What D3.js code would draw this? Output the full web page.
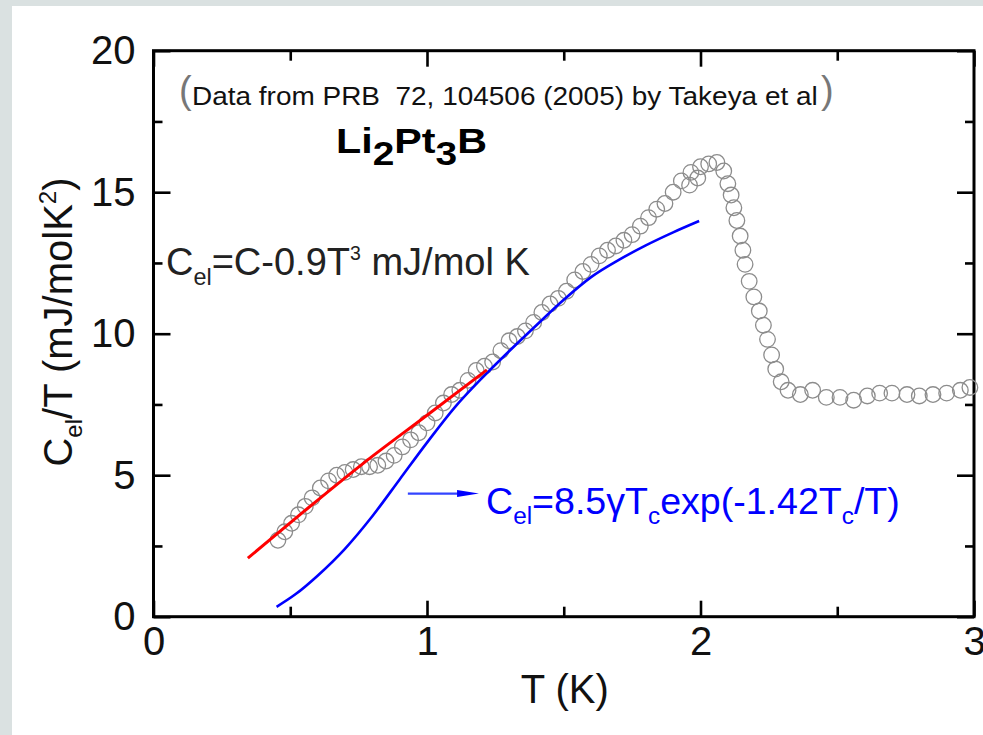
<!DOCTYPE html>
<html><head><meta charset="utf-8">
<script src="https://cdn.jsdelivr.net/npm/d3@7"></script>
<style>
html,body{margin:0;padding:0;background:#dae1e1;}
svg{display:block;}
text{font-family:"Liberation Sans",Arial,sans-serif;}
</style></head><body>
<svg id="chart" width="983" height="735"></svg>
<script>
// ---- data ----
const tempK = [0.455,0.48,0.505,0.53,0.555,0.58,0.61,0.64,0.67,0.70,0.73,0.76,0.79,0.82,0.85,0.88,0.91,0.94,0.97,1.00,1.03,1.06,1.09,1.12,1.15,1.18,1.21,1.24,1.27,1.30,1.33,1.36,1.39,1.42,1.45,1.48,1.51,1.54,1.57,1.60,1.63,1.66,1.69,1.72,1.75,1.78,1.81,1.84,1.87,1.90,1.93,1.96,1.965,1.99,2.00,2.03,2.06,2.085,2.10,2.112,2.122,2.133,2.145,2.155,2.163,2.178,2.195,2.215,2.23,2.245,2.26,2.275,2.295,2.32,2.365,2.41,2.46,2.51,2.56,2.61,2.655,2.70,2.755,2.80,2.85,2.90,2.95,2.985];
const cOverT = [2.70,3.0,3.3,3.6,3.9,4.2,4.55,4.8,5.0,5.1,5.2,5.3,5.3,5.35,5.5,5.7,6.0,6.25,6.5,6.85,7.2,7.55,7.85,8.0,8.35,8.7,8.85,9.0,9.4,9.75,9.9,10.1,10.4,10.75,11.05,11.25,11.5,11.9,12.2,12.45,12.75,12.95,13.1,13.3,13.5,13.8,14.1,14.4,14.6,15.0,15.4,15.25,15.7,15.5,15.9,16.0,16.05,15.75,15.3,14.9,14.45,14.0,13.45,12.95,12.45,11.85,11.3,10.8,10.3,9.8,9.25,8.75,8.3,8.0,7.85,8.0,7.75,7.75,7.65,7.8,7.9,7.9,7.85,7.8,7.85,7.9,8.0,8.1];
const redFitT = [0.345,0.55,0.767,1.0,1.219];
const redFitC = [2.07,3.72,5.42,7.12,8.72];
const blueFitT = [0.45,0.52,0.60,0.70,0.80,0.90,1.00,1.10,1.20,1.30,1.40,1.50,1.60,1.70,1.80,1.90,1.995];
const blueFitC = [0.35,0.80,1.45,2.40,3.55,4.85,6.15,7.38,8.42,9.38,10.3,11.2,12.0,12.6,13.12,13.58,13.98];
const xMajor = [0,1,2,3];
const xMinor = [0.5,1.5,2.5];
const yMajor = [0,5,10,15,20];
const yMinor = [2.5,7.5,12.5,17.5];

// ---- layout ----
const W = 983, H = 735;
const svg = d3.select("#chart");
svg.append("rect").attr("width", W).attr("height", H).attr("fill", "#dae1e1");
svg.append("rect").attr("x", 12).attr("y", 6).attr("width", W - 12).attr("height", H - 6).attr("fill", "#ffffff");

const x = d3.scaleLinear().domain([0, 3]).range([153.5, 974]);
const y = d3.scaleLinear().domain([0, 20]).range([616.7, 50.7]);

// ---- axes ----
function styleAxis(g) {
  g.select(".domain").remove();
  g.selectAll(".tick line").attr("stroke", "#000").attr("stroke-width", 2.6);
  g.selectAll(".tick text").attr("font-family", "Liberation Sans, Arial, sans-serif")
    .attr("font-size", 40).attr("fill", "#111");
}
const fmt = d3.format("d");
svg.append("g").attr("transform", `translate(0,${y(0)})`)
  .call(d3.axisBottom(x).tickValues(xMajor).tickSizeInner(-16).tickSizeOuter(0).tickPadding(10).tickFormat(fmt)).call(styleAxis);
svg.append("g").attr("transform", `translate(0,${y(0)})`)
  .call(d3.axisBottom(x).tickValues(xMinor).tickSizeInner(-10).tickSizeOuter(0).tickFormat("")).call(styleAxis);
svg.append("g").attr("transform", `translate(0,${y(20)})`)
  .call(d3.axisTop(x).tickValues(xMajor).tickSizeInner(-16).tickSizeOuter(0).tickFormat("")).call(styleAxis);
svg.append("g").attr("transform", `translate(0,${y(20)})`)
  .call(d3.axisTop(x).tickValues(xMinor).tickSizeInner(-10).tickSizeOuter(0).tickFormat("")).call(styleAxis);
svg.append("g").attr("transform", `translate(${x(0)},0)`)
  .call(d3.axisLeft(y).tickValues(yMajor).tickSizeInner(-17).tickSizeOuter(0).tickPadding(18).tickFormat(fmt)).call(styleAxis);
svg.append("g").attr("transform", `translate(${x(0)},0)`)
  .call(d3.axisLeft(y).tickValues(yMinor).tickSizeInner(-9).tickSizeOuter(0).tickFormat("")).call(styleAxis);
svg.append("g").attr("transform", `translate(${x(3)},0)`)
  .call(d3.axisRight(y).tickValues(yMajor).tickSizeInner(-17).tickSizeOuter(0).tickFormat("")).call(styleAxis);
svg.append("g").attr("transform", `translate(${x(3)},0)`)
  .call(d3.axisRight(y).tickValues(yMinor).tickSizeInner(-9).tickSizeOuter(0).tickFormat("")).call(styleAxis);

svg.append("rect").attr("x", x(0)).attr("y", y(20)).attr("width", x(3) - x(0)).attr("height", y(0) - y(20))
  .attr("fill", "none").attr("stroke", "#000").attr("stroke-width", 3);

// ---- data marks ----
const pts = tempK.map((t, i) => ({ t, c: cOverT[i] }));
svg.append("g").selectAll("circle").data(pts).join("circle")
  .attr("cx", d => x(d.t)).attr("cy", d => y(d.c)).attr("r", 7.8)
  .attr("fill", "none").attr("stroke", "#8c8c8c").attr("stroke-width", 1.3);

const lineGen = d3.line().x(d => x(d[0])).y(d => y(d[1])).curve(d3.curveMonotoneX);
svg.append("path").attr("d", lineGen(blueFitT.map((t, i) => [t, blueFitC[i]])))
  .attr("fill", "none").attr("stroke", "#0000ff").attr("stroke-width", 2.6);
svg.append("path").attr("d", lineGen(redFitT.map((t, i) => [t, redFitC[i]])))
  .attr("fill", "none").attr("stroke", "#ff0000").attr("stroke-width", 3);

// ---- texts ----
function rich(parent, parts, size, fill, weight) {
  const t = parent.append("text").attr("font-size", size).attr("fill", fill)
    .attr("font-weight", weight || "normal").style("white-space", "pre");
  let cur = 0;
  parts.forEach(p => {
    const s = p.shift || 0;
    t.append("tspan").attr("dy", s - cur).attr("font-size", p.size || size).text(p.t);
    cur = s;
  });
  return t;
}
function placeFit(parts, size, fill, weight, x0, yb, targetW) {
  const g = svg.append("g");
  const t = rich(g, parts, size, fill, weight);
  const w = t.node().getBBox().width;
  const s = targetW ? targetW / w : 1;
  g.attr("transform", `translate(${x0},${yb}) scale(${s},1)`);
  return g;
}

// citation
placeFit([{ t: "Data from PRB  72, 104506 (2005) by Takeya et al" }], 25, "#111", null, 192, 105, 626);
svg.append("text").attr("x", 179).attr("y", 103).attr("font-size", 38).attr("fill", "#777").text("(");
svg.append("text").attr("x", 821).attr("y", 103).attr("font-size", 38).attr("fill", "#777").text(")");

// compound
placeFit([{ t: "Li" }, { t: "2", shift: 12, size: 33 }, { t: "Pt" }, { t: "3", shift: 12, size: 33 }, { t: "B" }],
  35, "#000", "bold", 336, 153, 151);

// phonon subtraction formula
placeFit([{ t: "C" }, { t: "el", shift: 10, size: 24 }, { t: "=C-0.9T" }, { t: "3", shift: -15, size: 20 }, { t: " mJ/mol K" }],
  39, "#222", null, 166, 275, 364);

// blue formula with arrow
const ay = y(4.35);
svg.append("line").attr("x1", x(0.93)).attr("x2", x(1.12)).attr("y1", ay).attr("y2", ay)
  .attr("stroke", "#3344ff").attr("stroke-width", 2.4);
svg.append("path").attr("d", d3.line()([[x(1.11), ay - 3.5], [x(1.19), ay], [x(1.11), ay + 3.5]]) + "Z")
  .attr("fill", "#0000ff");
placeFit([{ t: "C" }, { t: "el", shift: 10, size: 24 }, { t: "=8.5γT" }, { t: "c", shift: 10, size: 24 },
  { t: "exp(-1.42T" }, { t: "c", shift: 10, size: 24 }, { t: "/T)" }],
  37, "#0000ff", null, 486, 514, 414);

// axis titles
svg.append("text").attr("x", (x(0) + x(3)) / 2 + 1).attr("y", 703).attr("text-anchor", "middle")
  .attr("font-size", 40).attr("fill", "#111").text("T (K)");
const yt = svg.append("g").attr("transform", "translate(72,322) rotate(-90)");
const ytt = yt.append("text").attr("text-anchor", "middle").attr("font-size", 40).attr("fill", "#111");
ytt.append("tspan").text("C");
ytt.append("tspan").attr("dy", 10).attr("font-size", 24).text("el");
ytt.append("tspan").attr("dy", -10).text("/T (mJ/molK");
ytt.append("tspan").attr("dy", -16).attr("font-size", 24).text("2");
ytt.append("tspan").attr("dy", 16).text(")");
</script>
</body></html>
